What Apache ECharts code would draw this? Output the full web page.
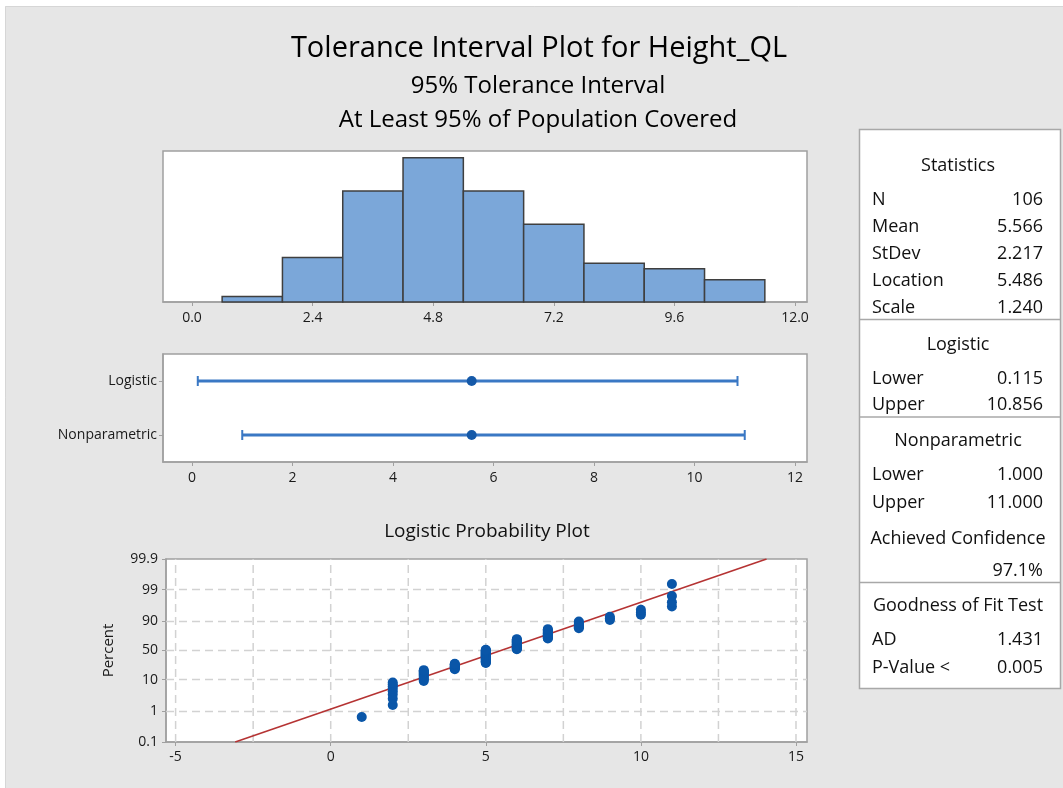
<!DOCTYPE html>
<html><head><meta charset="utf-8">
<script src="https://cdn.jsdelivr.net/npm/echarts@6/dist/echarts.min.js"></script>
<style>html,body{margin:0;padding:0;background:#fff}#c{width:1063px;height:788px}</style>
</head><body><div id="c"></div>
<script>
const FONT = '"Open Sans", "Noto Sans", sans-serif';

// ---- Histogram ----
const histBinCenters = [1.2, 2.4, 3.6, 4.8, 6.0, 7.2, 8.4, 9.6, 10.8];
const histCounts = [1, 8, 20, 26, 20, 14, 7, 6, 4];
const histBinWidth = 1.2;
const histTicks = [0, 2.4, 4.8, 7.2, 9.6, 12];

// ---- Tolerance intervals ----
const intervalNames = ['Logistic', 'Nonparametric'];
const intervalLower = [0.115, 1.0];
const intervalUpper = [10.856, 11.0];
const intervalCenter = [5.566, 5.566];
const intervalTicks = [0, 2, 4, 6, 8, 10, 12];

// ---- Logistic probability plot ----
const probValues = [1, 2, 3, 4, 5, 6, 7, 8, 9, 10, 11];
const probCounts = [1, 8, 11, 9, 26, 20, 14, 7, 3, 3, 4];
const probXTicks = [-5, 0, 5, 10, 15];
const probXGrid = [-5, -2.5, 0, 2.5, 5, 7.5, 10, 12.5, 15];
const probPercentTicks = [0.1, 1, 10, 50, 90, 99, 99.9];
const probPercentLabels = ['0.1', '1', '10', '50', '90', '99', '99.9'];
const fitLocation = 5.486;
const fitScale = 1.240;

// ---- Statistics panel ----
const statLabels = ['N', 'Mean', 'StDev', 'Location', 'Scale'];
const statValues = ['106', '5.566', '2.217', '5.486', '1.240'];
const logisticLabels = ['Lower', 'Upper'];
const logisticValues = ['0.115', '10.856'];
const nonparLabels = ['Lower', 'Upper'];
const nonparValues = ['1.000', '11.000'];
const achievedConfidence = '97.1%';
const gofLabels = ['AD', 'P-Value <'];
const gofValues = ['1.431', '0.005'];

// ---- derived ----
const logit = p => Math.log(p / (1 - p));
const probYTicks = probPercentTicks.map(p => logit(p / 100));
const yLo = probYTicks[0], yHi = probYTicks[probYTicks.length - 1];
const xLo = -5.31, xHi = 15.355;
const N = probCounts.reduce((a, b) => a + b, 0);
const probPoints = [];
let rank = 0;
probValues.forEach((v, i) => {
  for (let k = 0; k < probCounts[i]; k++) {
    rank++;
    probPoints.push([v, logit((rank - 0.3) / (N + 0.4))]);
  }
});
const fitLine = [[fitLocation + yLo * fitScale, yLo], [fitLocation + yHi * fitScale, yHi]];
const gridLineData = probXGrid.map(v => [0, v]).concat(probYTicks.slice(1, -1).map(v => [1, v]));

const chart = echarts.init(document.getElementById('c'));
const TXT = '#1a1a1a';
const AX = '#a0a0a0';

function panelGraphics() {
  const g = [];
  const L = 872, R = 1043, C = 958;
  const txt = (x, y, s, align, size) => g.push({
    type: 'text', x, y, silent: true,
    style: { text: s, fill: '#111', font: (size || 18) + 'px ' + FONT, align, verticalAlign: 'middle' }
  });
  g.push({ type: 'rect', shape: { x: 859.5, y: 129.5, width: 201, height: 559 },
    style: { fill: '#fff', stroke: '#a8a8a8', lineWidth: 1.5 } });
  [319.5, 417, 582.5].forEach(y => g.push({ type: 'line', shape: { x1: 859.5, y1: y, x2: 1060.5, y2: y },
    style: { stroke: '#a8a8a8', lineWidth: 1.5 } }));
  txt(C, 166, 'Statistics', 'center');
  const sy = [200, 227, 254, 281, 308];
  statLabels.forEach((s, i) => { txt(L, sy[i], s, 'left'); txt(R, sy[i], statValues[i], 'right'); });
  txt(C, 345, 'Logistic', 'center');
  const ly = [379, 405];
  logisticLabels.forEach((s, i) => { txt(L, ly[i], s, 'left'); txt(R, ly[i], logisticValues[i], 'right'); });
  txt(C, 441, 'Nonparametric', 'center');
  const ny = [475, 503];
  nonparLabels.forEach((s, i) => { txt(L, ny[i], s, 'left'); txt(R, ny[i], nonparValues[i], 'right'); });
  txt(C, 539, 'Achieved Confidence', 'center');
  txt(R, 571, achievedConfidence, 'right');
  txt(C, 606, 'Goodness of Fit Test', 'center');
  const gy = [640, 668];
  gofLabels.forEach((s, i) => { txt(L, gy[i], s, 'left'); txt(R, gy[i], gofValues[i], 'right'); });
  return g;
}

const graphics = [
  { type: 'rect', shape: { x: 0, y: 0, width: 1063, height: 6 }, style: { fill: '#fff' }, silent: true },
  { type: 'rect', shape: { x: 0, y: 0, width: 5, height: 788 }, style: { fill: '#fff' }, silent: true },
  { type: 'line', shape: { x1: 5.5, y1: 6.5, x2: 1063, y2: 6.5 }, style: { stroke: '#d6d6d6', lineWidth: 1 }, silent: true },
  { type: 'line', shape: { x1: 5.5, y1: 6.5, x2: 5.5, y2: 788 }, style: { stroke: '#d6d6d6', lineWidth: 1 }, silent: true },
  { type: 'text', x: 539, y: 49, silent: true, style: { text: 'Tolerance Interval Plot for Height_QL', fill: '#000', font: '29px ' + FONT, align: 'center', verticalAlign: 'middle' } },
  { type: 'text', x: 538, y: 86, silent: true, style: { text: '95% Tolerance Interval', fill: '#000', font: '24px ' + FONT, align: 'center', verticalAlign: 'middle' } },
  { type: 'text', x: 538, y: 120, silent: true, style: { text: 'At Least 95% of Population Covered', fill: '#000', font: '24px ' + FONT, align: 'center', verticalAlign: 'middle' } },
  { type: 'text', x: 487, y: 532, silent: true, style: { text: 'Logistic Probability Plot', fill: '#111', font: '19px ' + FONT, align: 'center', verticalAlign: 'middle' } }
].concat(panelGraphics());

const gridBase = { show: true, backgroundColor: '#fff', borderColor: AX, borderWidth: 1.5, containLabel: false };
const xAxisBase = (gi, min, max, ticks, fmt, margin) => ({
  type: 'value', gridIndex: gi, min, max,
  axisLine: { show: true, onZero: false, lineStyle: { color: AX, width: 1.5 } },
  axisTick: { show: true, length: 4, customValues: ticks, lineStyle: { color: AX } },
  axisLabel: { customValues: ticks, formatter: fmt, color: TXT, fontFamily: FONT, fontSize: 14, margin },
  splitLine: { show: false }
});

const option = {
  backgroundColor: '#e6e6e6',
  animation: false,
  graphic: graphics,
  grid: [
    Object.assign({ left: 163, top: 151, width: 644, height: 151 }, gridBase),
    Object.assign({ left: 163, top: 354, width: 644, height: 108 }, gridBase),
    Object.assign({ left: 166, top: 559, width: 641, height: 183 }, gridBase)
  ],
  xAxis: [
    xAxisBase(0, -0.577, 12.239, histTicks, v => v.toFixed(1), 9),
    xAxisBase(1, -0.577, 12.239, intervalTicks, v => String(v), 9),
    xAxisBase(2, xLo, xHi, probXTicks, v => String(v), 8)
  ],
  yAxis: [
    { type: 'value', gridIndex: 0, min: 0, max: 27.2, show: false },
    { type: 'category', gridIndex: 1, data: intervalNames, inverse: true,
      axisLine: { show: true, onZero: false, lineStyle: { color: AX, width: 1.5 } },
      axisTick: { show: true, length: 4, alignWithLabel: true, lineStyle: { color: AX } },
      axisLabel: { color: TXT, fontFamily: FONT, fontSize: 14, margin: 6 } },
    { type: 'value', gridIndex: 2, min: yLo, max: yHi,
      name: 'Percent', nameLocation: 'middle', nameGap: 50,
      nameTextStyle: { color: TXT, fontFamily: FONT, fontSize: 15 },
      axisLine: { show: true, onZero: false, lineStyle: { color: AX, width: 1.5 } },
      axisTick: { show: true, length: 4, customValues: probYTicks, lineStyle: { color: AX } },
      axisLabel: { customValues: probYTicks, color: TXT, fontFamily: FONT, fontSize: 14, margin: 8,
        formatter: v => {
          let best = 0;
          probYTicks.forEach((t, i) => { if (Math.abs(t - v) < Math.abs(probYTicks[best] - v)) best = i; });
          return probPercentLabels[best];
        } },
      splitLine: { show: false } }
  ],
  series: [
    { type: 'custom', xAxisIndex: 0, yAxisIndex: 0,
      data: histBinCenters.map((c, i) => [c, histCounts[i], histBinWidth]),
      encode: { x: 0, y: 1 },
      renderItem: (params, api) => {
        const w = api.value(2) / 2;
        const a = api.coord([api.value(0) - w, api.value(1)]);
        const b = api.coord([api.value(0) + w, 0]);
        return { type: 'rect', shape: { x: a[0], y: a[1], width: b[0] - a[0], height: b[1] - a[1] },
          style: { fill: '#7ba7d9', stroke: '#3f3f3f', lineWidth: 1.5 } };
      } },
    { type: 'custom', xAxisIndex: 1, yAxisIndex: 1,
      data: intervalNames.map((n, i) => [i, intervalLower[i], intervalUpper[i], intervalCenter[i]]),
      encode: { x: [1, 2, 3], y: 0 },
      renderItem: (params, api) => {
        const y = api.value(0);
        const lo = api.coord([api.value(1), y]);
        const hi = api.coord([api.value(2), y]);
        const c = api.coord([api.value(3), y]);
        const col = '#3a78c4';
        return { type: 'group', children: [
          { type: 'line', shape: { x1: lo[0], y1: lo[1], x2: hi[0], y2: hi[1] }, style: { stroke: col, lineWidth: 3 } },
          { type: 'line', shape: { x1: lo[0], y1: lo[1] - 5, x2: lo[0], y2: lo[1] + 5 }, style: { stroke: col, lineWidth: 2 } },
          { type: 'line', shape: { x1: hi[0], y1: hi[1] - 5, x2: hi[0], y2: hi[1] + 5 }, style: { stroke: col, lineWidth: 2 } },
          { type: 'circle', shape: { cx: c[0], cy: c[1], r: 5 }, style: { fill: '#1559a8' } }
        ] };
      } },
    { type: 'custom', xAxisIndex: 2, yAxisIndex: 2, z: 1, silent: true,
      data: gridLineData,
      renderItem: (params, api) => {
        const kind = api.value(0), v = api.value(1);
        const p1 = kind === 0 ? api.coord([v, yLo]) : api.coord([xLo, v]);
        const p2 = kind === 0 ? api.coord([v, yHi]) : api.coord([xHi, v]);
        return { type: 'line', shape: { x1: p1[0], y1: p1[1], x2: p2[0], y2: p2[1] },
          style: { stroke: '#d2d2d2', lineWidth: 1.5, lineDash: [8, 5] } };
      } },
    { type: 'line', xAxisIndex: 2, yAxisIndex: 2, data: fitLine, z: 2, symbol: 'none', silent: true,
      lineStyle: { color: '#b53333', width: 1.6 }, clip: true },
    { type: 'scatter', xAxisIndex: 2, yAxisIndex: 2, data: probPoints, z: 3, symbolSize: 10, silent: true,
      itemStyle: { color: '#0a56a8', opacity: 1, borderWidth: 0 } }
  ]
};
chart.setOption(option);
</script></body></html>
